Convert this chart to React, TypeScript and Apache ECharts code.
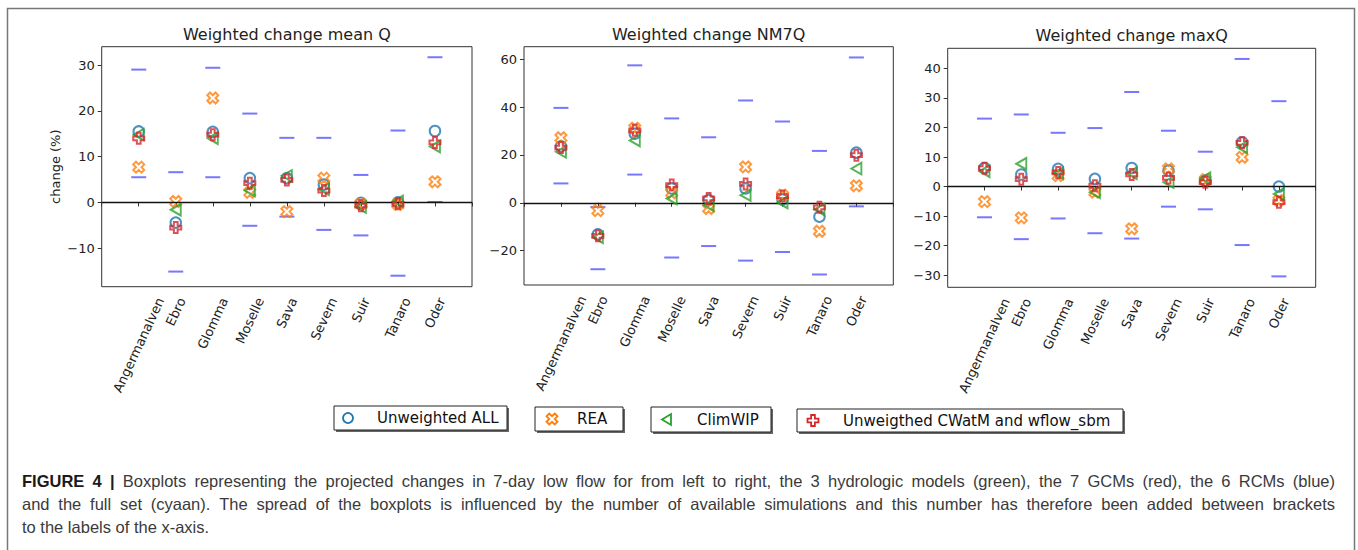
import React, { useEffect, useRef } from "react";
import * as echarts from "echarts";

// ---------- data ----------
const CATEGORIES = ["Angermanalven", "Ebro", "Glomma", "Moselle", "Sava", "Severn", "Suir", "Tanaro", "Oder"];
const SERIES_NAMES = ["Unweighted ALL", "REA", "ClimWIP", "Unweigthed CWatM and wflow_sbm"];
const PANEL_TITLES = ["Weighted change mean Q", "Weighted change NM7Q", "Weighted change maxQ"];

// mean Q
const MEAN_HIGH = [29.0, 6.6, 29.4, 19.4, 14.1, 14.1, 6.0, 15.7, 31.7];
const MEAN_LOW = [5.5, -15.1, 5.5, -5.1, -3.1, -6.0, -7.2, -16.0, 0.1];
const MEAN_UNWEIGHTED = [15.5, -4.4, 15.4, 5.3, 5.3, 3.9, -0.1, 0.0, 15.6];
const MEAN_REA = [7.7, 0.2, 22.8, 2.2, -2.0, 5.3, -0.3, -0.4, 4.5];
const MEAN_CLIMWIP = [14.8, -1.6, 14.0, 2.6, 5.8, 2.9, -1.0, 0.2, 12.2];
const MEAN_CWATM = [14.0, -5.5, 14.8, 4.2, 4.9, 2.6, -0.7, -0.3, 13.1];
const MEAN_TICKS = [-10, 0, 10, 20, 30];

// NM7Q
const NM7_HIGH = [39.7, -1.8, 57.5, 35.3, 27.4, 42.8, 34.0, 21.7, 60.8];
const NM7_LOW = [8.1, -27.8, 11.8, -22.9, -18.1, -24.2, -20.6, -30.0, -1.5];
const NM7_UNWEIGHTED = [23.6, -13.2, 28.9, 6.0, 1.1, 6.0, 1.4, -5.8, 21.0];
const NM7_REA = [27.2, -3.3, 31.2, 4.2, -2.4, 15.0, 3.2, -11.9, 7.1];
const NM7_CLIMWIP = [21.3, -14.4, 26.1, 1.8, -1.0, 3.2, 0.1, -2.8, 14.3];
const NM7_CWATM = [23.1, -13.8, 30.3, 7.4, 1.8, 7.9, 2.8, -1.9, 19.9];
const NM7_TICKS = [-20, 0, 20, 40, 60];

// maxQ
const MAX_HIGH = [23.0, 24.4, 18.2, 19.8, 32.0, 18.9, 11.8, 43.2, 28.9];
const MAX_LOW = [-10.4, -17.8, -10.8, -15.8, -17.6, -6.8, -7.7, -19.8, -30.4];
const MAX_UNWEIGHTED = [6.3, 4.1, 6.0, 2.6, 6.3, 5.4, 2.0, 15.0, 0.0];
const MAX_REA = [-5.1, -10.6, 3.7, -1.9, -14.3, 6.0, 2.3, 9.9, -4.7];
const MAX_CLIMWIP = [5.2, 7.7, 4.5, -1.9, 4.5, 1.5, 2.8, 13.3, -2.5];
const MAX_CWATM = [6.2, 2.5, 4.8, 0.3, 4.1, 2.9, 1.5, 14.8, -5.3];
const MAX_TICKS = [-30, -20, -10, 0, 10, 20, 30, 40];

const CAPTION_BOLD = "FIGURE 4 |";
const CAPTION_LINES = [
  "Boxplots representing the projected changes in 7-day low flow for from left to right, the 3 hydrologic models (green), the 7 GCMs (red), the 6 RCMs (blue)",
  "and the full set (cyaan). The spread of the boxplots is influenced by the number of available simulations and this number has therefore been added between brackets",
  "to the labels of the x-axis.",
];

// ---------- layout / style ----------
const FONT = '"DejaVu Sans", sans-serif';
const CAP_FONT_FAMILY = '"Liberation Sans", Arial, sans-serif';
const CAP_SIZE = 16.5;
const PANEL_LAYOUT = [
  { left: 101.7, top: 46.7, width: 370.3, height: 240, yMin: -18.4, yMax: 34.0, titleTop: 26 },
  { left: 524, top: 46.7, width: 369.3, height: 238.3, yMin: -34.4, yMax: 65.3, titleTop: 26 },
  { left: 947.7, top: 48.3, width: 368, height: 239, yMin: -34.1, yMax: 46.8, titleTop: 27.5 },
];
const PANEL_DATA = [
  { high: MEAN_HIGH, low: MEAN_LOW, vals: [MEAN_UNWEIGHTED, MEAN_REA, MEAN_CLIMWIP, MEAN_CWATM], ticks: MEAN_TICKS },
  { high: NM7_HIGH, low: NM7_LOW, vals: [NM7_UNWEIGHTED, NM7_REA, NM7_CLIMWIP, NM7_CWATM], ticks: NM7_TICKS },
  { high: MAX_HIGH, low: MAX_LOW, vals: [MAX_UNWEIGHTED, MAX_REA, MAX_CLIMWIP, MAX_CWATM], ticks: MAX_TICKS },
];

const COLORS = ["#1f77b4", "#ff7f0e", "#2ca02c", "#d62728"];
const DASH_COLOR = "#5555ff";

const X_PTS = [[75, 0], [100, 25], [75, 50], [100, 75], [75, 100], [50, 75], [25, 100], [0, 75], [25, 50], [0, 25], [25, 0], [50, 25]];
const P_PTS = [[33, 0], [67, 0], [67, 33], [100, 33], [100, 67], [67, 67], [67, 100], [33, 100], [33, 67], [0, 67], [0, 33], [33, 33]];
const T_PTS = [[0, 50], [90, 0], [90, 100]];
const toPath = (pts: number[][]) => "path://M" + pts.map((p) => p[0] + "," + p[1]).join("L") + "Z";
const SYMBOLS: any[] = ["circle", toPath(X_PTS), toPath(T_PTS), toPath(P_PTS)];
const SYMBOL_SIZES: any[] = [10.5, 11, [10, 11.5], 11];

let measureCtx: CanvasRenderingContext2D | null = null;
function measureText(text: string, font: string) {
  if (!measureCtx) measureCtx = document.createElement("canvas").getContext("2d");
  if (!measureCtx) return text.length * 7.5;
  measureCtx.font = font;
  return measureCtx.measureText(text).width;
}

const fmtTick = (v: number) => (v < 0 ? "\u2212" + Math.abs(v) : String(v));

function captionGraphics(): any[] {
  const out: any[] = [];
  const left = 22;
  const right = 1335;
  const regFont = CAP_SIZE + "px " + CAP_FONT_FAMILY;
  const boldFont = "bold " + CAP_SIZE + "px " + CAP_FONT_FAMILY;
  CAPTION_LINES.forEach((line, li) => {
    const words: { t: string; bold: boolean }[] = [];
    if (li === 0) CAPTION_BOLD.split(" ").forEach((t) => words.push({ t, bold: true }));
    line.split(" ").forEach((t) => words.push({ t, bold: false }));
    const widths = words.map((w) => measureText(w.t, w.bold ? boldFont : regFont));
    const total = widths.reduce((a, b) => a + b, 0);
    const justify = li < CAPTION_LINES.length - 1;
    const gap = justify ? (right - left - total) / (words.length - 1) : measureText(" ", regFont);
    const y = 481 + li * 23;
    let x = left;
    words.forEach((w, i) => {
      out.push({
        type: "text", silent: true, x, y,
        style: {
          text: w.t, font: w.bold ? boldFont : regFont, fill: w.bold ? "#1a1a1a" : "#3a3a3a",
          verticalAlign: "middle", align: "left",
        },
      });
      x += widths[i] + gap;
    });
  });
  return out;
}

function buildOption() {
  const grids: any[] = [];
  const xAxes: any[] = [];
  const yAxes: any[] = [];
  const titles: any[] = [];
  const series: any[] = [];

  PANEL_LAYOUT.forEach((L, g) => {
    const D = PANEL_DATA[g];
    grids.push({
      left: L.left, top: L.top, width: L.width, height: L.height,
      show: true, borderColor: "#333", borderWidth: 1, containLabel: false,
    });
    titles.push({
      text: PANEL_TITLES[g], left: L.left + L.width / 2, top: L.titleTop, textAlign: "center", padding: 0,
      textStyle: { fontSize: 16, fontWeight: "normal", color: "#222", fontFamily: FONT },
    });
    xAxes.push({
      gridIndex: g, type: "value", min: 0, max: 10, interval: 1,
      axisLine: { show: false },
      axisTick: { show: true, length: 4, lineStyle: { color: "#333" } },
      axisLabel: { show: false },
      splitLine: { show: false },
    });
    yAxes.push({
      gridIndex: g, type: "value", min: L.yMin, max: L.yMax,
      axisLine: { show: false },
      axisTick: { show: true, length: 4, customValues: D.ticks, lineStyle: { color: "#333" } },
      axisLabel: { customValues: D.ticks, formatter: fmtTick, fontSize: 13, color: "#222", fontFamily: FONT, margin: 7 },
      splitLine: { show: false },
      name: g === 0 ? "change (%)" : "",
      nameLocation: "middle", nameGap: 40,
      nameTextStyle: { fontSize: 13, color: "#222", fontFamily: FONT },
    });

    // spread dashes + zero line
    series.push({
      type: "scatter", xAxisIndex: g, yAxisIndex: g, silent: true, z: 2,
      symbol: "rect", symbolSize: [15, 2],
      itemStyle: { color: DASH_COLOR },
      data: [...D.high.map((v, i) => [i + 1, v]), ...D.low.map((v, i) => [i + 1, v])],
      markLine: {
        silent: true, symbol: "none", label: { show: false }, animation: false,
        lineStyle: { color: "#111", width: 1.4, type: "solid" },
        data: [{ yAxis: 0 }],
      },
    });

    D.vals.forEach((vals, s) => {
      series.push({
        name: SERIES_NAMES[s], type: "scatter", xAxisIndex: g, yAxisIndex: g, silent: true, z: 3 + s,
        symbol: SYMBOLS[s], symbolSize: SYMBOL_SIZES[s],
        itemStyle: { color: "rgba(0,0,0,0)", borderColor: COLORS[s], borderWidth: 2 },
        data: vals.map((v, i) => [i + 1, v]),
      });
    });

    // rotated category labels, centred under ticks like matplotlib
    series.push({
      type: "custom", xAxisIndex: g, yAxisIndex: g, silent: true, clip: false,
      data: CATEGORIES.map((_, i) => [i + 1, L.yMin]),
      renderItem: (params: any, api: any) => {
        const name = CATEGORIES[params.dataIndex];
        const pt = api.coord([api.value(0), api.value(1)]);
        const font = "13px " + FONT;
        const len = measureText(name, font);
        const th = (65 * Math.PI) / 180;
        const h = 13;
        const ex = pt[0] + (len * Math.cos(th)) / 2;
        const ey = pt[1] + 9 + (h / 2) * Math.cos(th);
        return {
          type: "text", x: ex, y: ey, rotation: th,
          style: { text: name, x: 0, y: 0, align: "right", verticalAlign: "middle", font, fill: "#222" },
        };
      },
    });
  });

  // legend boxes
  const legendBoxes = [
    { x: 334, y: 406, w: 173, h: 24, mx: 348, tx: 377 },
    { x: 535, y: 407, w: 88, h: 24, mx: 552, tx: 577 },
    { x: 651, y: 407, w: 120, h: 25, mx: 667, tx: 697 },
    { x: 797, y: 409, w: 326, h: 23, mx: 813, tx: 843 },
  ];
  const shapePts = [null, X_PTS, T_PTS, P_PTS];
  const shapeSize = [[10, 10], [11, 11], [10, 11], [11, 11]];
  const graphics: any[] = [
    { type: "rect", silent: true, shape: { x: 7.5, y: 8.5, width: 1347, height: 600 }, style: { fill: "none", stroke: "#777", lineWidth: 1.5 } },
  ];
  legendBoxes.forEach((b, s) => {
    const cy = b.y + b.h / 2;
    graphics.push({ type: "rect", silent: true, shape: { x: b.x + 2, y: b.y + 2, width: b.w, height: b.h }, style: { fill: "#666" } });
    graphics.push({ type: "rect", silent: true, shape: { x: b.x, y: b.y, width: b.w, height: b.h }, style: { fill: "#fff", stroke: "#222", lineWidth: 1 } });
    if (s === 0) {
      graphics.push({ type: "circle", silent: true, shape: { cx: b.mx, cy, r: 5 }, style: { fill: "none", stroke: COLORS[0], lineWidth: 1.8 } });
    } else {
      const [sw, sh] = shapeSize[s];
      const pts = (shapePts[s] as number[][]).map((p) => [b.mx - sw / 2 + (p[0] / 100) * sw, cy - sh / 2 + (p[1] / 100) * sh]);
      graphics.push({ type: "polygon", silent: true, shape: { points: pts }, style: { fill: "none", stroke: COLORS[s], lineWidth: 1.8 } });
    }
    graphics.push({
      type: "text", silent: true, x: b.tx, y: cy,
      style: { text: SERIES_NAMES[s], fill: "#111", font: "15px " + FONT, verticalAlign: "middle", align: "left" },
    });
  });

  graphics.push(...captionGraphics());

  return {
    animation: false,
    backgroundColor: "#fff",
    title: titles,
    grid: grids,
    xAxis: xAxes,
    yAxis: yAxes,
    series,
    graphic: graphics,
  };
}

export default function App() {
  const ref = useRef<HTMLDivElement>(null);
  useEffect(() => {
    if (!ref.current) return;
    const chart = echarts.init(ref.current, null, { renderer: "svg" });
    chart.setOption(buildOption() as any);
    return () => chart.dispose();
  }, []);
  return <div ref={ref} style={{ position: "absolute", left: 0, top: 0, width: 1358, height: 550 }} />;
}
